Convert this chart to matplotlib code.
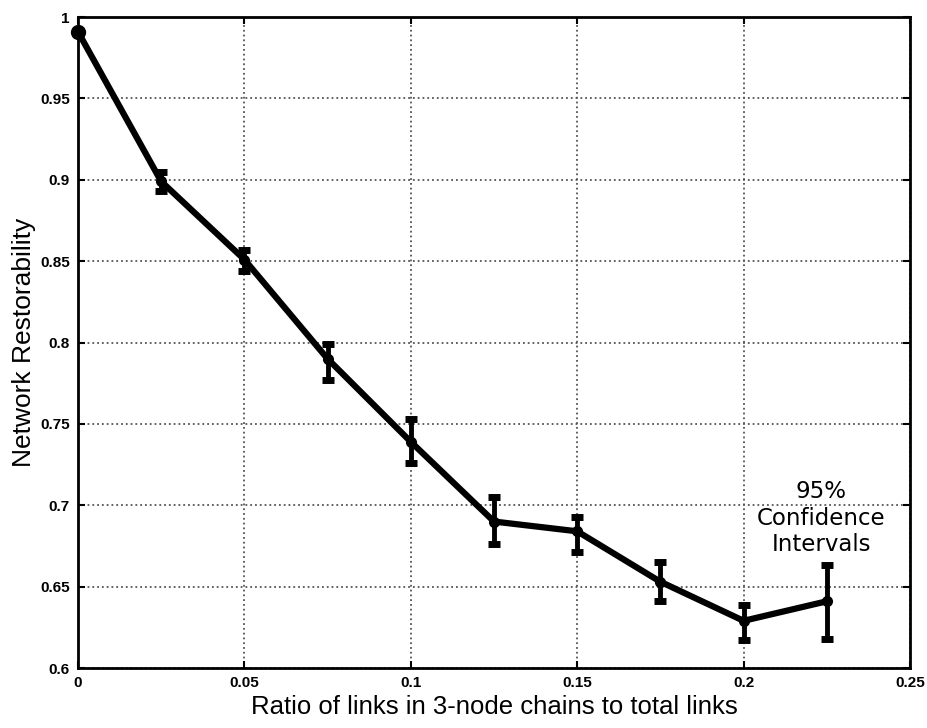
import matplotlib.pyplot as plt
import numpy as np

# Restorability vs ratio of 3-node chain links (with 95% CIs)
ratio = [0, 0.025, 0.05, 0.075, 0.1, 0.125, 0.15, 0.175, 0.2, 0.225]
restorability = [0.991, 0.899, 0.851, 0.790, 0.739, 0.690, 0.684, 0.653, 0.629, 0.641]
ci_low = [0.991, 0.893, 0.844, 0.777, 0.726, 0.676, 0.671, 0.641, 0.617, 0.618]
ci_high = [0.991, 0.905, 0.857, 0.799, 0.753, 0.705, 0.693, 0.665, 0.639, 0.663]

x_ticks = [0, 0.05, 0.1, 0.15, 0.2, 0.25]
x_ticklabels = ['0', '0.05', '0.1', '0.15', '0.2', '0.25']
y_ticks = [0.6, 0.65, 0.7, 0.75, 0.8, 0.85, 0.9, 0.95, 1.0]
y_ticklabels = ['0.6', '0.65', '0.7', '0.75', '0.8', '0.85', '0.9', '0.95', '1']

y = np.array(restorability)
yerr = np.vstack([y - np.array(ci_low), np.array(ci_high) - y])

fig = plt.figure(figsize=(9.27, 7.28), dpi=100)
ax = fig.add_axes([0.0841, 0.0824, 0.8976, 0.8942])

eb = ax.errorbar(ratio, restorability, yerr=yerr, color='black', linewidth=4.5,
                 elinewidth=3.5, capsize=4.5, capthick=5, marker='o', markersize=7)
eb[0].set_clip_on(False)
# bigger blob at the first point, like the original
ax.plot(ratio[:1], restorability[:1], 'o', color='black', markersize=10, clip_on=False)

ax.set_xlim(0, 0.25)
ax.set_ylim(0.6, 1.0)
ax.set_xticks(x_ticks)
ax.set_xticklabels(x_ticklabels, fontsize=11, fontweight='bold', family='Liberation Sans')
ax.set_yticks(y_ticks)
ax.set_yticklabels(y_ticklabels, fontsize=11, fontweight='bold', family='Liberation Sans')
ax.tick_params(direction='in', top=True, right=True, length=5, width=1.5, pad=6)
for s in ax.spines.values():
    s.set_linewidth(2)

ax.grid(True, linestyle=':', color='#555555', linewidth=1.3)
ax.set_axisbelow(True)

ax.set_xlabel('Ratio of links in 3-node chains to total links', fontsize=18.5,
              family='Liberation Sans', labelpad=3)
ax.set_ylabel('Network Restorability', fontsize=19, family='Liberation Sans', labelpad=3)

ax.text(0.2233, 0.692, '95%\nConfidence\nIntervals', ha='center', va='center',
        fontsize=16.5, linespacing=1.2)

plt.savefig('out.png', dpi=100)
